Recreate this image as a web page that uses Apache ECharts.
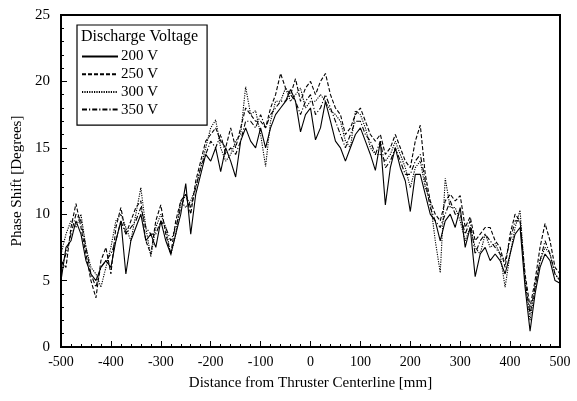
<!DOCTYPE html>
<html><head><meta charset="utf-8">
<script src="https://cdn.jsdelivr.net/npm/echarts@6/dist/echarts.min.js"></script>
<style>html,body{margin:0;padding:0;background:#fff}#c{width:577px;height:401px}</style>
</head><body><div id="c"></div>
<script>
const xStart = -500, xStep = 10;
const seriesNames = ['200 V', '250 V', '300 V', '350 V'];
const v200 = [5.0,7.5,8.0,9.5,8.5,6.5,5.5,5.0,6.0,6.5,6.0,8.0,9.5,5.5,8.0,9.0,10.0,8.0,8.5,7.5,9.5,8.0,7.0,8.5,10.0,12.3,8.5,11.5,13.0,14.5,14.0,15.0,13.2,15.0,14.0,12.8,15.5,16.5,15.5,15.0,16.5,15.0,16.5,17.5,18.0,18.5,19.4,18.5,16.2,17.5,18.0,15.6,16.5,18.5,17.0,15.5,15.0,14.0,15.0,16.0,16.5,15.5,14.5,13.3,15.5,10.7,13.5,15.0,13.5,12.5,10.2,13.0,13.0,11.5,10.0,9.5,8.0,9.5,10.0,9.0,10.5,7.5,9.0,5.3,7.0,7.5,6.5,7.0,6.5,5.5,7.0,8.5,9.0,4.5,1.2,4.0,6.0,7.0,6.5,5.0,4.8];
const v250 = [6.5,6.0,9.0,10.8,9.0,7.0,5.0,3.7,6.5,7.5,5.5,9.0,10.5,8.5,9.5,10.5,11.0,8.0,7.0,9.5,10.7,8.5,7.0,9.5,11.0,11.5,10.0,12.5,14.0,15.5,16.0,16.5,15.5,15.0,16.5,15.0,16.5,18.0,17.5,17.0,17.0,16.5,18.0,19.0,20.6,19.5,19.0,20.2,18.5,19.5,20.0,19.0,20.0,20.6,19.0,18.0,17.5,16.0,16.5,17.5,18.0,17.0,16.0,15.5,16.0,14.5,15.0,16.0,15.0,14.0,13.5,15.5,16.7,13.0,11.0,10.0,9.5,11.0,11.5,11.0,11.4,9.0,9.8,8.0,8.5,9.0,9.0,8.0,7.5,6.0,8.5,10.0,9.5,5.5,3.0,5.0,7.5,9.3,8.0,6.0,5.5];
const v300 = [7.0,8.5,9.5,9.0,10.0,7.5,6.0,5.5,4.5,6.0,7.5,9.5,10.0,9.0,8.0,10.0,12.0,9.0,6.8,9.0,10.0,9.0,6.9,8.5,11.0,10.5,11.0,12.0,13.5,15.0,16.5,17.1,15.0,14.0,14.5,15.5,16.0,19.6,17.5,17.8,16.0,13.6,17.0,18.5,18.5,19.5,18.5,19.0,19.5,18.0,18.5,18.5,19.0,18.5,17.8,17.5,17.0,15.5,15.0,17.8,17.5,16.5,15.0,14.5,14.5,14.0,14.5,15.5,14.5,13.5,12.0,13.5,14.0,12.0,11.0,8.0,5.6,12.7,10.5,10.5,9.5,8.0,9.0,7.5,7.0,8.5,7.5,7.8,7.0,4.5,7.0,9.0,10.3,5.0,2.0,4.5,6.5,7.5,7.0,5.5,5.0];
const v350 = [6.0,7.0,8.5,10.0,9.5,7.5,5.5,4.5,6.0,6.5,7.0,8.0,9.5,8.5,9.0,9.5,10.5,9.0,8.5,8.5,9.5,9.0,8.0,9.0,10.5,11.5,10.5,12.0,13.5,14.5,15.5,15.0,16.0,14.5,15.0,14.5,15.5,17.0,17.0,16.5,17.5,16.5,17.5,18.0,18.5,18.5,19.0,18.5,17.5,18.5,19.0,17.5,18.0,19.0,18.0,17.0,16.0,15.0,16.0,17.0,17.0,16.0,15.5,14.5,15.5,13.5,14.0,15.0,14.0,13.0,13.0,14.0,14.5,12.5,10.5,9.5,9.0,10.0,11.0,10.0,10.0,8.5,9.5,7.0,8.0,8.5,8.0,7.5,7.0,6.5,8.0,9.5,9.5,5.0,2.5,4.5,6.5,8.0,7.0,5.5,5.0];
const lineTypes = ['solid', [4,2], [1.2,1.2], [5,2,1.2,2]];

const allValues = [v200, v250, v300, v350];
const font = 'Liberation Serif';
const chart = echarts.init(document.getElementById('c'), null, {renderer:'canvas'});
const series = allValues.map((vals, k) => ({
  name: seriesNames[k], type: 'line', symbol: 'none', smooth: false,
  data: vals.map((v, i) => [xStart + i * xStep, v]),
  lineStyle: {color: '#000', width: 1.1, type: lineTypes[k]},
  itemStyle: {color: '#000'}
}));
chart.setOption({
  animation: false,
  backgroundColor: '#fff',
  grid: {left: 61, right: 17, top: 15, bottom: 54, show: true, borderColor: '#000', borderWidth: 2, backgroundColor: 'transparent'},
  xAxis: {
    type: 'value', min: -500, max: 500, interval: 100,
    name: 'Distance from Thruster Centerline [mm]', nameLocation: 'middle', nameGap: 29,
    nameTextStyle: {fontFamily: font, fontSize: 15, color: '#000'},
    axisLine: {show: true, onZero: false, lineStyle: {color: '#000', width: 2}},
    axisTick: {inside: true, length: 6, lineStyle: {color: '#000', width: 1}},
    minorTick: {show: true, splitNumber: 5, length: 3, lineStyle: {color: '#000', width: 1}},
    axisLabel: {fontFamily: font, fontSize: 14, color: '#000', margin: 8},
    splitLine: {show: false}
  },
  yAxis: {
    type: 'value', min: 0, max: 25, interval: 5,
    name: 'Phase Shift [Degrees]', nameLocation: 'middle', nameGap: 33,
    nameTextStyle: {fontFamily: font, fontSize: 15, color: '#000'},
    axisLine: {show: true, onZero: false, lineStyle: {color: '#000', width: 2}},
    axisTick: {inside: true, length: 6, lineStyle: {color: '#000', width: 1}},
    minorTick: {show: true, splitNumber: 5, length: 3, lineStyle: {color: '#000', width: 1}},
    axisLabel: {fontFamily: font, fontSize: 15, color: '#000', margin: 11},
    splitLine: {show: false}
  },
  legend: {
    orient: 'vertical', left: 77, top: 25,
    padding: [24, 49, 8, 4], itemGap: 2.7, itemWidth: 36, itemHeight: 14,
    borderColor: '#000', borderWidth: 1.2, backgroundColor: '#fff',
    itemStyle: {color: 'transparent', borderWidth: 0, opacity: 0},
    textStyle: {fontFamily: font, fontSize: 15, color: '#000', padding: [0,0,0,-2]},
    data: seriesNames
  },
  graphic: [{type: 'text', left: 81, top: 29, z: 100,
    style: {text: 'Discharge Voltage', font: '16px "Liberation Serif"', fill: '#000'}}],
  series: series
});
</script></body></html>
